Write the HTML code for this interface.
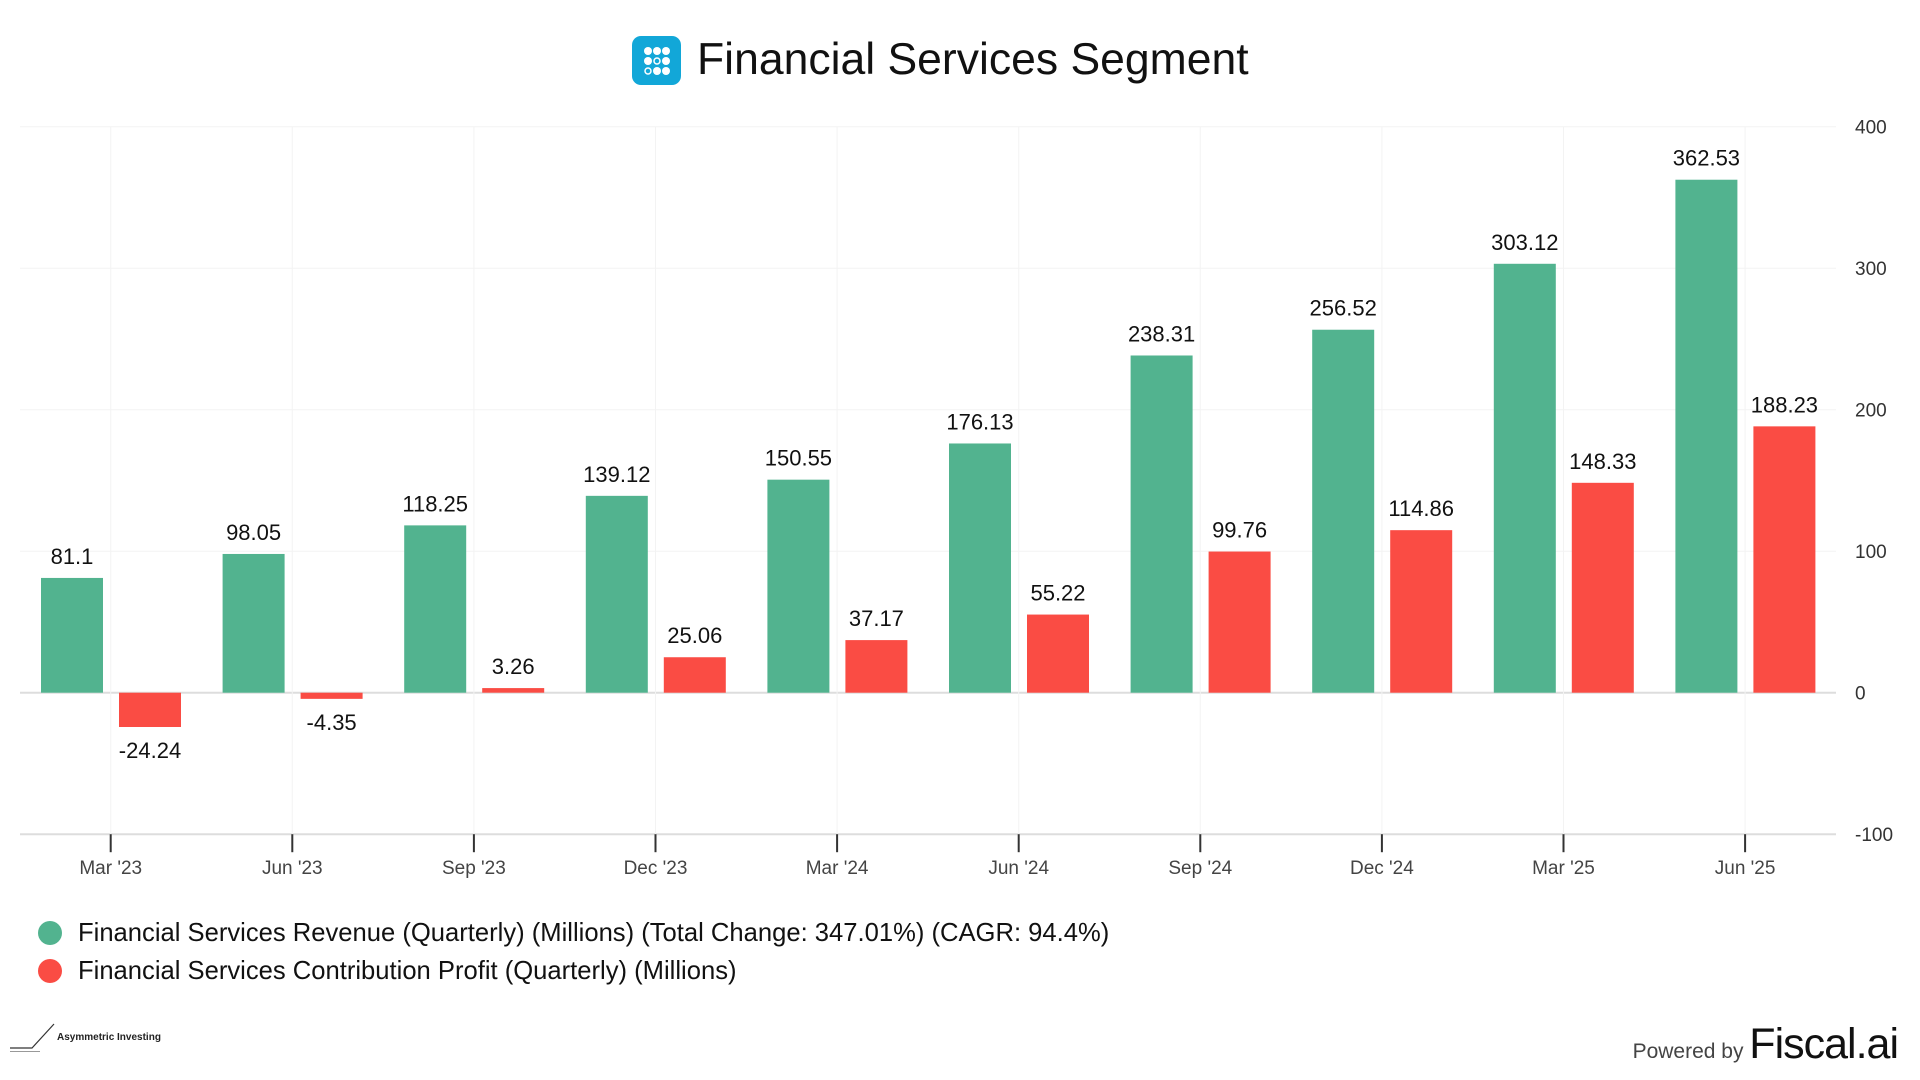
<!DOCTYPE html>
<html><head><meta charset="utf-8"><style>
body{margin:0;width:1920px;height:1080px;background:#fff;font-family:"Liberation Sans",Arial,sans-serif;overflow:hidden;position:relative}
</style></head><body>
<div style="position:absolute;left:632px;top:32px;height:56px;display:flex;align-items:center">
<svg width="49" height="49" viewBox="0 0 49 49" style="margin-right:16px">
<rect width="49" height="49" rx="9" fill="#12a7d8"/>
<g fill="#fff"><circle cx="16" cy="15" r="4"/><circle cx="25" cy="15" r="4"/><circle cx="34" cy="15" r="4"/>
<circle cx="16" cy="25" r="4"/><circle cx="25" cy="25" r="3" fill="none" stroke="#fff" stroke-width="1.5"/><circle cx="34" cy="25" r="4"/>
<circle cx="16" cy="35" r="3" fill="none" stroke="#fff" stroke-width="1.5"/><circle cx="25" cy="35" r="4"/><circle cx="34" cy="35" r="4"/></g></svg>
<span style="font-size:44.5px;color:#111">Financial Services Segment</span></div>
<svg id="chart" width="1920" height="900" style="position:absolute;left:0;top:0"></svg>
<div style="position:absolute;left:38px;top:914px;font-size:25.6px;color:#111;line-height:38px">
<div><span style="display:inline-block;width:24px;height:24px;border-radius:50%;background:#52b38f;vertical-align:-4px;margin-right:16px"></span>Financial Services Revenue (Quarterly) (Millions) (Total Change: 347.01%) (CAGR: 94.4%)</div>
<div><span style="display:inline-block;width:24px;height:24px;border-radius:50%;background:#fa4c44;vertical-align:-4px;margin-right:16px"></span>Financial Services Contribution Profit (Quarterly) (Millions)</div>
</div>
<div style="position:absolute;left:10px;top:1022px;font-size:10px;font-weight:bold;color:#222">
<svg width="48" height="30" style="position:absolute;left:0;top:0"><path d="M0 26 H22 L44 2" stroke="#333" fill="none" stroke-width="1.2"/><path d="M0 30 H30" stroke="#333" stroke-width="1"/></svg>
<span style="position:absolute;left:47px;top:10px;white-space:nowrap">Asymmetric Investing</span></div>
<div style="position:absolute;right:22px;top:1020px;white-space:nowrap;color:#111">
<span style="font-size:21px;color:#444">Powered by </span><span style="font-size:43px;letter-spacing:-1px">Fiscal.ai</span></div>
<script>
const categories=["Mar '23","Jun '23","Sep '23","Dec '23","Mar '24","Jun '24","Sep '24","Dec '24","Mar '25","Jun '25"];
const revenue=[81.1,98.05,118.25,139.12,150.55,176.13,238.31,256.52,303.12,362.53];
const profit=[-24.24,-4.35,3.26,25.06,37.17,55.22,99.76,114.86,148.33,188.23];
const yTicks=[-100,0,100,200,300,400];
const NS="http://www.w3.org/2000/svg";
const svg=document.getElementById('chart');
const left=20,right=1836,x0=110.7,step=181.6;
const y=v=>692.7-(v)*1.415;
const xc=i=>x0+i*step;
function mk(t,a,p){const e=document.createElementNS(NS,t);for(const k in a)e.setAttribute(k,a[k]);(p||svg).appendChild(e);return e;}
yTicks.forEach(t=>{
 const l=mk('line',{x1:left,x2:right,y1:y(t),y2:y(t),stroke:(t===0||t===-100)?'#ddd':'#f3f3f3','stroke-width':(t===0||t===-100)?2:1});
 
 
 const tx=mk('text',{x:1855,y:y(t)+7,'font-size':19,fill:'#333'});tx.textContent=t;
 
 
});
categories.forEach((c,i)=>{
 const x=xc(i);
 mk('line',{x1:x,x2:x,y1:y(400),y2:y(-100),stroke:'#f3f3f3'});
 const tk=mk('line',{x1:x,x2:x,y1:y(-100),y2:y(-100)+18,stroke:'#333','stroke-width':2});
 
 
 const tl=mk('text',{x:x,y:874,'font-size':19,fill:'#444','text-anchor':'middle'});tl.textContent=c;
 
 
});
function bars(vals,off,color,name){
 vals.forEach((v,i)=>{
  const x=xc(i)+off;
  const top=Math.min(y(v),y(0)),h=Math.abs(y(v)-y(0));
  const r=mk('rect',{x:x,y:top,width:62,height:Math.max(h,1),fill:color});
  
  
  const t=mk('text',{x:x+31,y:v>=0?top-14:top+h+31,'font-size':22,fill:'#111','text-anchor':'middle'});t.textContent=v;
  
  
 });
}
bars(revenue,-69.7,'#52b38f','revenue');
bars(profit,8.3,'#fa4c44','profit');
</script>
</body></html>
